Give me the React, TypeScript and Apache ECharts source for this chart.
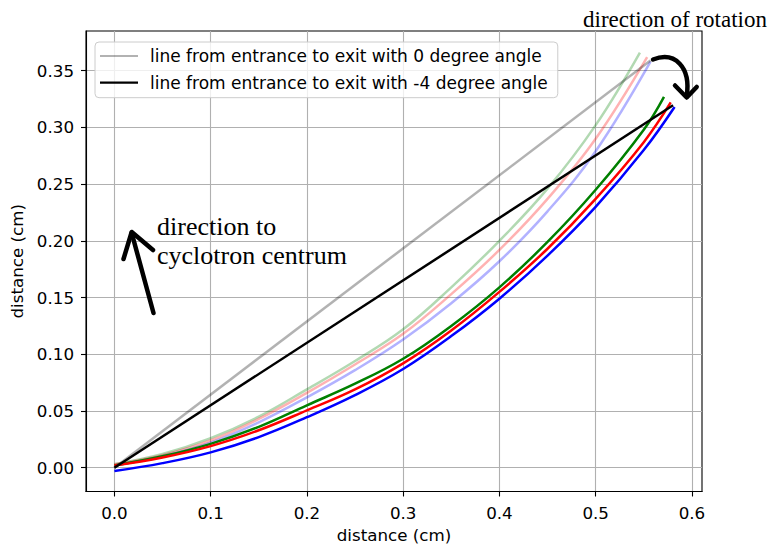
import React, { useEffect, useRef } from "react";
import * as echarts from "echarts";

// ---- data ----
const xTicks = [0, 0.1, 0.2, 0.3, 0.4, 0.5, 0.6];
const yTicks = [0, 0.05, 0.1, 0.15, 0.2, 0.25, 0.3, 0.35];

const greenX = [0, 0.05, 0.1, 0.15, 0.2, 0.25, 0.3, 0.35, 0.4, 0.45, 0.5, 0.55, 0.571];
const greenY = [0.002, 0.01, 0.021, 0.036, 0.055, 0.074, 0.096, 0.125, 0.159, 0.199, 0.245, 0.298, 0.327];

const redX = [0, 0.05, 0.1, 0.15, 0.2, 0.25, 0.3, 0.35, 0.4, 0.45, 0.5, 0.55, 0.578];
const redY = [0.002, 0.009, 0.019, 0.033, 0.0505, 0.069, 0.092, 0.121, 0.155, 0.193, 0.237, 0.287, 0.322];

const blueX = [0, 0.05, 0.1, 0.15, 0.2, 0.25, 0.3, 0.35, 0.4, 0.45, 0.5, 0.55, 0.582];
const blueY = [-0.003, 0.004, 0.0135, 0.027, 0.0445, 0.064, 0.087, 0.116, 0.149, 0.187, 0.23, 0.28, 0.318];

const fadedGreenX = [0, 0.05, 0.1, 0.15, 0.2, 0.25, 0.3, 0.35, 0.4, 0.45, 0.5, 0.546];
const fadedGreenY = [0.003, 0.012, 0.026, 0.045, 0.069, 0.094, 0.122, 0.159, 0.2, 0.246, 0.302, 0.366];

const fadedRedX = [0, 0.05, 0.1, 0.15, 0.2, 0.25, 0.3, 0.35, 0.4, 0.45, 0.5, 0.5535];
const fadedRedY = [0.003, 0.011, 0.024, 0.043, 0.066, 0.091, 0.118, 0.153, 0.192, 0.237, 0.29, 0.362];

const fadedBlueX = [0, 0.05, 0.1, 0.15, 0.2, 0.25, 0.3, 0.35, 0.4, 0.45, 0.5, 0.557];
const fadedBlueY = [0.002, 0.01, 0.022, 0.04, 0.062, 0.086, 0.113, 0.145, 0.182, 0.226, 0.279, 0.358];

const grayLineX = [0, 0.557];
const grayLineY = [0, 0.359];
const blackLineX = [0, 0.5804];
const blackLineY = [0, 0.3195];

const legendNames = [
  "line from entrance to exit with 0 degree angle",
  "line from entrance to exit with -4 degree angle",
];

const zip = (xs: number[], ys: number[]) => xs.map((x, i) => [x, ys[i]]);

const SANS = "DejaVu Sans";
const SERIF = "Liberation Serif";
const FS = 16.7;

export default function App() {
  const ref = useRef<HTMLDivElement>(null);

  useEffect(() => {
    if (!ref.current) return;
    const chart = echarts.init(ref.current, undefined, { renderer: "svg" });

    const curve = (name: string, xs: number[], ys: number[], color: string, smooth = 0.4) => ({
      name,
      type: "line",
      data: zip(xs, ys),
      showSymbol: false,
      symbol: "none",
      smooth,
      lineStyle: { color, width: 2.5 },
      itemStyle: { color },
      emphasis: { disabled: true },
    });

    const option: any = {
      animation: false,
      backgroundColor: "#ffffff",
      grid: {
        left: 86,
        right: 69,
        top: 31,
        bottom: 53.5,
        outerBoundsMode: "none",
        containLabel: false,
        show: true,
        borderColor: "#000",
        borderWidth: 1.1,
        backgroundColor: "transparent",
      },
      legend: {
        data: legendNames,
        orient: "vertical",
        left: 95,
        top: 42,
        padding: [4, 10, 5, 5],
        icon: "path://M0,0 L38,0 L38,2.2 L0,2.2 Z",
        itemWidth: 38,
        itemHeight: 14,
        itemGap: 6.7,
        borderColor: "#cccccc",
        borderWidth: 1,
        borderRadius: 4,
        backgroundColor: "rgba(255,255,255,0.8)",
        textStyle: {
          color: "#000",
          fontFamily: SANS,
          fontSize: 17,
          lineHeight: 20,
          padding: [0, 0, 0, 7],
        },
        selectedMode: false,
      },
      xAxis: {
        type: "value",
        min: -0.0295,
        max: 0.6105,
        splitNumber: 6,
        name: "distance (cm)",
        nameLocation: "middle",
        nameGap: 34,
        nameTextStyle: { color: "#000", fontFamily: SANS, fontSize: FS },
        axisLine: { show: true, onZero: false, lineStyle: { color: "#000", width: 1.1 } },
        axisTick: { show: true, length: 5, customValues: xTicks, lineStyle: { color: "#000", width: 1.1 } },
        axisLabel: {
          customValues: xTicks,
          formatter: (v: number) => v.toFixed(1),
          margin: 13,
          color: "#000",
          fontFamily: SANS,
          fontSize: FS,
        },
        splitLine: { show: true, lineStyle: { color: "#b0b0b0", width: 1.1 } },
      },
      yAxis: {
        type: "value",
        min: -0.021,
        max: 0.385,
        splitNumber: 8,
        name: "distance (cm)",
        nameLocation: "middle",
        nameGap: 55,
        nameTextStyle: { color: "#000", fontFamily: SANS, fontSize: FS },
        axisLine: { show: true, onZero: false, lineStyle: { color: "#000", width: 1.1 } },
        axisTick: { show: true, length: 5, customValues: yTicks, lineStyle: { color: "#000", width: 1.1 } },
        axisLabel: {
          customValues: yTicks,
          formatter: (v: number) => v.toFixed(2),
          margin: 12,
          color: "#000",
          fontFamily: SANS,
          fontSize: FS,
        },
        splitLine: { show: true, lineStyle: { color: "#b0b0b0", width: 1.1 } },
      },
      series: [
        curve("faded green", fadedGreenX, fadedGreenY, "rgba(0,128,0,0.3)"),
        curve("faded red", fadedRedX, fadedRedY, "rgba(255,0,0,0.3)"),
        curve("faded blue", fadedBlueX, fadedBlueY, "rgba(0,0,255,0.3)"),
        curve("green", greenX, greenY, "#008000"),
        curve("red", redX, redY, "#ff0000"),
        curve("blue", blueX, blueY, "#0000ff"),
        curve(legendNames[0], grayLineX, grayLineY, "rgba(0,0,0,0.3)", 0),
        curve(legendNames[1], blackLineX, blackLineY, "#000000", 0),
      ],
      graphic: [
        {
          type: "text",
          x: 583,
          y: 19.5,
          z: 100,
          style: {
            text: "direction of rotation",
            font: `23px "${SERIF}"`,
            fill: "#000",
            textAlign: "left",
            textVerticalAlign: "middle",
          },
        },
        {
          type: "text",
          x: 157,
          y: 226.5,
          z: 100,
          style: {
            text: "direction to",
            font: `26px "${SERIF}"`,
            fill: "#000",
            textAlign: "left",
            textVerticalAlign: "middle",
          },
        },
        {
          type: "text",
          x: 157,
          y: 255,
          z: 100,
          style: {
            text: "cyclotron centrum",
            font: `26px "${SERIF}"`,
            fill: "#000",
            textAlign: "left",
            textVerticalAlign: "middle",
          },
        },
        {
          type: "line",
          z: 100,
          shape: { x1: 153.5, y1: 313, x2: 131.7, y2: 233 },
          style: { stroke: "#000", lineWidth: 4.5, lineCap: "round" },
        },
        {
          type: "polyline",
          z: 100,
          shape: { points: [[123.5, 259], [131.7, 232], [153, 250]] },
          style: { stroke: "#000", lineWidth: 4.5, fill: null, lineCap: "round", lineJoin: "round" },
        },
        {
          type: "bezierCurve",
          z: 100,
          shape: { x1: 653, y1: 59.5, cpx1: 675, cpy1: 51, cpx2: 691, cpy2: 67, x2: 686.7, y2: 96 },
          style: { stroke: "#000", lineWidth: 4.5, fill: null, lineCap: "round" },
        },
        {
          type: "polyline",
          z: 100,
          shape: { points: [[675, 85.5], [686.7, 97.5], [696.7, 87]] },
          style: { stroke: "#000", lineWidth: 4.5, fill: null, lineCap: "round", lineJoin: "round" },
        },
      ],
    };

    chart.setOption(option);
    return () => chart.dispose();
  }, []);

  return (
    <div
      ref={ref}
      style={{ position: "fixed", left: 0, top: 0, width: 771, height: 545, background: "#fff" }}
    />
  );
}
